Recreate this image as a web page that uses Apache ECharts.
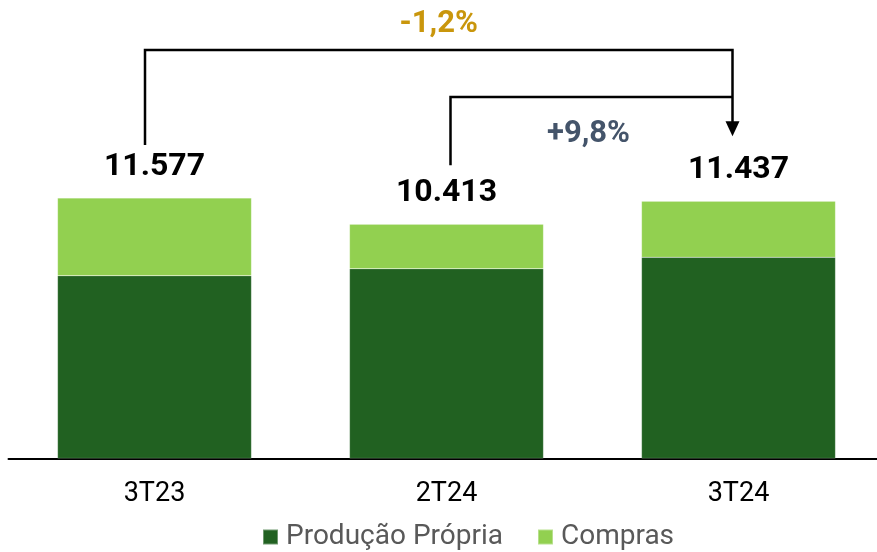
<!DOCTYPE html>
<html>
<head>
<meta charset="utf-8">
<script src="https://cdn.jsdelivr.net/npm/echarts@6/dist/echarts.min.js"></script>
<style>
html,body{margin:0;padding:0;background:#fff;}
#c{width:877px;height:552px;}
</style>
</head>
<body>
<div id="c"></div>
<script>
const categories = ['3T23', '2T24', '3T24'];
const producaoPropria = [8124, 8436, 8942];
const compras = [3453, 1977, 2495];
const totals = [11577, 10413, 11437];
const totalLabels = ['11.577', '10.413', '11.437'];
const changeYoY = '-1,2%';
const changeQoQ = '+9,8%';

const chart = echarts.init(document.getElementById('c'), null, {renderer: 'canvas'});
const FONT = 'Roboto, "Noto Sans", sans-serif';

chart.setOption({
  animation: false,
  grid: {left: 8.5, width: 876, top: 8.5, height: 450, outerBoundsMode: 'none', containLabel: false},
  legend: {
    data: ['Produção Própria', 'Compras'],
    bottom: -4,
    left: 257,
    icon: 'rect',
    itemWidth: 15,
    itemHeight: 15,
    itemGap: 34,
    textStyle: {fontSize: 28, color: '#595959', fontFamily: FONT, padding: [0, 0, 0, 3]}
  },
  xAxis: {
    type: 'category',
    data: categories,
    axisLine: {lineStyle: {color: '#000', width: 2}},
    axisTick: {show: false},
    axisLabel: {fontSize: 27, color: '#000', fontFamily: FONT, margin: 22}
  },
  yAxis: {
    type: 'value', min: 0, max: 20000,
    show: false, splitLine: {show: false}
  },
  series: [
    {
      name: 'Produção Própria', type: 'bar', stack: 't', barWidth: 194,
      data: producaoPropria,
      itemStyle: {color: '#216121', borderColor: 'rgba(255,255,255,0.35)', borderWidth: 0.5}
    },
    {
      name: 'Compras', type: 'bar', stack: 't', barWidth: 194,
      data: compras,
      itemStyle: {color: '#92D050', borderColor: 'rgba(255,255,255,0.35)', borderWidth: 0.5},
      label: {
        show: true, position: 'top', distance: 15,
        formatter: p => totalLabels[p.dataIndex],
        fontSize: 32, fontWeight: 'bold', color: '#000', fontFamily: FONT, lineHeight: 32
      }
    }
  ]
});

function px(i, v) { return chart.convertToPixel({gridIndex: 0}, [i, v]); }
const c0 = px(0, totals[0]);
const c1 = px(1, totals[1]);
const c2 = px(2, totals[2]);

const xL = c0[0] - 9.5, xM = c1[0] + 4, xR = c2[0] - 6;
const yTop1 = 50, yTop2 = 97;
const yBot1 = c0[1] - 53, yBot2 = c1[1] - 59;
const arrowTip = c2[1] - 65;
const lw = 2.5;

chart.setOption({
  graphic: [
    {type: 'polyline', shape: {points: [[xL, yBot1], [xL, yTop1], [xR, yTop1], [xR, arrowTip - 14]]},
     style: {stroke: '#000', lineWidth: lw, fill: null}},
    {type: 'polyline', shape: {points: [[xM, yBot2], [xM, yTop2], [xR, yTop2]]},
     style: {stroke: '#000', lineWidth: lw, fill: null}},
    {type: 'polygon', shape: {points: [[xR - 7, arrowTip - 15], [xR + 7, arrowTip - 15], [xR, arrowTip]]},
     style: {fill: '#000'}},
    {type: 'text', x: (xL + xR) / 2, y: 24,
     style: {text: changeYoY, fill: '#C9960C', font: 'bold 31px ' + FONT, textAlign: 'center', textVerticalAlign: 'middle'}},
    {type: 'text', x: (xM + xR) / 2 - 3, y: 134,
     style: {text: changeQoQ, fill: '#44546A', font: 'bold 31px ' + FONT, textAlign: 'center', textVerticalAlign: 'middle'}}
  ]
});
</script>
</body>
</html>
